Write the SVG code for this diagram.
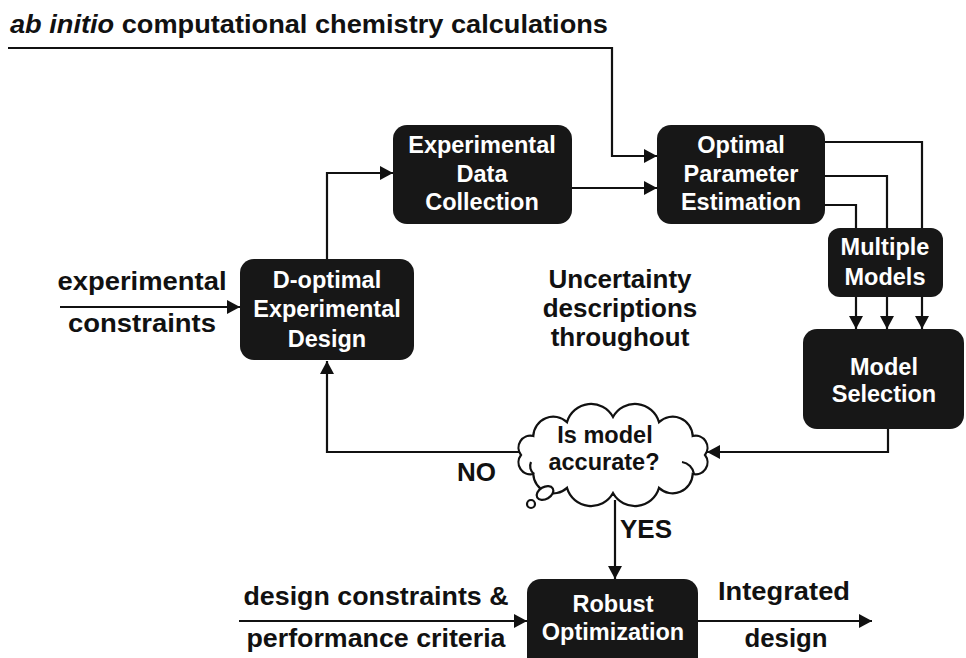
<svg xmlns="http://www.w3.org/2000/svg" width="966" height="658" viewBox="0 0 966 658">
<style>
.box{fill:#171717;}
.bt{font-family:"Liberation Sans",Arial,sans-serif;font-weight:bold;font-size:23.5px;fill:#ffffff;text-anchor:middle;}
.lb{font-family:"Liberation Sans",Arial,sans-serif;font-weight:bold;font-size:26px;fill:#111111;}
.c{text-anchor:middle;}
.ln{fill:none;stroke:#111111;stroke-width:2.2;}
.cl{fill:#ffffff;stroke:#111111;stroke-width:2.2;}
</style>
<defs>
<marker id="ah" markerUnits="userSpaceOnUse" markerWidth="14" markerHeight="14" refX="13" refY="7" orient="auto" viewBox="0 0 14 14"><path d="M0,0 L13,7 L0,14 z" fill="#111111"/></marker>
</defs>
<rect width="966" height="658" fill="#ffffff"/>

<g id="labels">
<text class="lb" x="10" y="33" font-size="25" textLength="598" lengthAdjust="spacingAndGlyphs"><tspan font-style="italic">ab initio</tspan> computational chemistry calculations</text>
<text class="lb c" x="142" y="290" textLength="169" lengthAdjust="spacingAndGlyphs">experimental</text>
<text class="lb c" x="142" y="332" textLength="148" lengthAdjust="spacingAndGlyphs">constraints</text>
<text class="lb c" x="620" y="288">Uncertainty</text>
<text class="lb c" x="620" y="317">descriptions</text>
<text class="lb c" x="620" y="346">throughout</text>
<text class="lb" x="457" y="481" font-size="26">NO</text>
<text class="lb" x="620" y="538" font-size="26">YES</text>
<text class="lb c" x="376" y="605" textLength="265" lengthAdjust="spacingAndGlyphs">design constraints &amp;</text>
<text class="lb c" x="376" y="647" textLength="259" lengthAdjust="spacingAndGlyphs">performance criteria</text>
<text class="lb c" x="784" y="600" textLength="132" lengthAdjust="spacingAndGlyphs">Integrated</text>
<text class="lb c" x="786" y="647" textLength="83" lengthAdjust="spacingAndGlyphs">design</text>
</g>

<g id="connectors">
<path class="ln" d="M8,48 H612 V156 H657" marker-end="url(#ah)"/>
<path class="ln" d="M327,259 V173 H393" marker-end="url(#ah)"/>
<path class="ln" d="M572,188 H657" marker-end="url(#ah)"/>
<path class="ln" d="M825,142 H922 V228"/>
<path class="ln" d="M825,176 H887 V228"/>
<path class="ln" d="M825,205 H856 V228"/>
<path class="ln" d="M856,297 V329" marker-end="url(#ah)"/>
<path class="ln" d="M887,297 V329" marker-end="url(#ah)"/>
<path class="ln" d="M922,297 V329" marker-end="url(#ah)"/>
<path class="ln" d="M888,429 V452 H707" marker-end="url(#ah)"/>
<path class="ln" d="M530,452 H327 V361" marker-end="url(#ah)"/>
<path class="ln" d="M615,500 V579" marker-end="url(#ah)"/>
<path class="ln" d="M239,621 H527" marker-end="url(#ah)"/>
<path class="ln" d="M698,621 H872" marker-end="url(#ah)"/>
<path class="ln" d="M60,307 H240" marker-end="url(#ah)"/>
</g>

<g id="exp-data">
<rect class="box" x="393" y="125" width="179" height="99" rx="14"/>
<text class="bt" x="482" y="153">Experimental</text>
<text class="bt" x="482" y="182">Data</text>
<text class="bt" x="482" y="210">Collection</text>
</g>

<g id="opt-param">
<rect class="box" x="657" y="125" width="168" height="99" rx="14"/>
<text class="bt" x="741" y="153">Optimal</text>
<text class="bt" x="741" y="182">Parameter</text>
<text class="bt" x="741" y="210">Estimation</text>
</g>

<g id="d-optimal">
<rect class="box" x="240" y="259" width="174" height="101" rx="14"/>
<text class="bt" x="327" y="288">D-optimal</text>
<text class="bt" x="327" y="317">Experimental</text>
<text class="bt" x="327" y="347">Design</text>
</g>

<g id="multiple-models">
<rect class="box" x="828" y="228" width="115" height="69" rx="12"/>
<text class="bt" x="885" y="255">Multiple</text>
<text class="bt" x="885" y="285">Models</text>
</g>

<g id="model-selection">
<rect class="box" x="803" y="329" width="161" height="100" rx="14"/>
<text class="bt" x="884" y="375">Model</text>
<text class="bt" x="884" y="402">Selection</text>
</g>

<g id="robust-opt">
<rect class="box" x="527" y="579" width="171" height="92" rx="14"/>
<text class="bt" x="613" y="612">Robust</text>
<text class="bt" x="613" y="640">Optimization</text>
</g>

<g id="decision">
<path class="cl" d="M521,455 A12,12 0 0 1 533.3,436 A20,20 0 0 1 567,422.1 A25,25 0 0 1 613,417 A25,25 0 0 1 659,422.1 A20,20 0 0 1 692.7,436 A12,12 0 0 1 705,455 A12,12 0 0 1 692.7,474 A20,20 0 0 1 659,487.9 A25,25 0 0 1 613,493 A25,25 0 0 1 567,487.9 A20,20 0 0 1 533.3,474 A12,12 0 0 1 521,455 Z"/>
<path class="ln" d="M534,474 A10,10 0 0 1 531,462"/>
<path class="ln" d="M682,462 A14,14 0 0 1 694,474"/>
<ellipse class="cl" cx="545" cy="493" rx="9" ry="6" transform="rotate(-30 545 493)"/>
<circle class="cl" cx="531" cy="504" r="4"/>
<text class="bt" x="605" y="443" style="fill:#111111" font-size="24">Is model</text>
<text class="bt" x="604" y="470" style="fill:#111111" font-size="24">accurate?</text>
</g>
</svg>
